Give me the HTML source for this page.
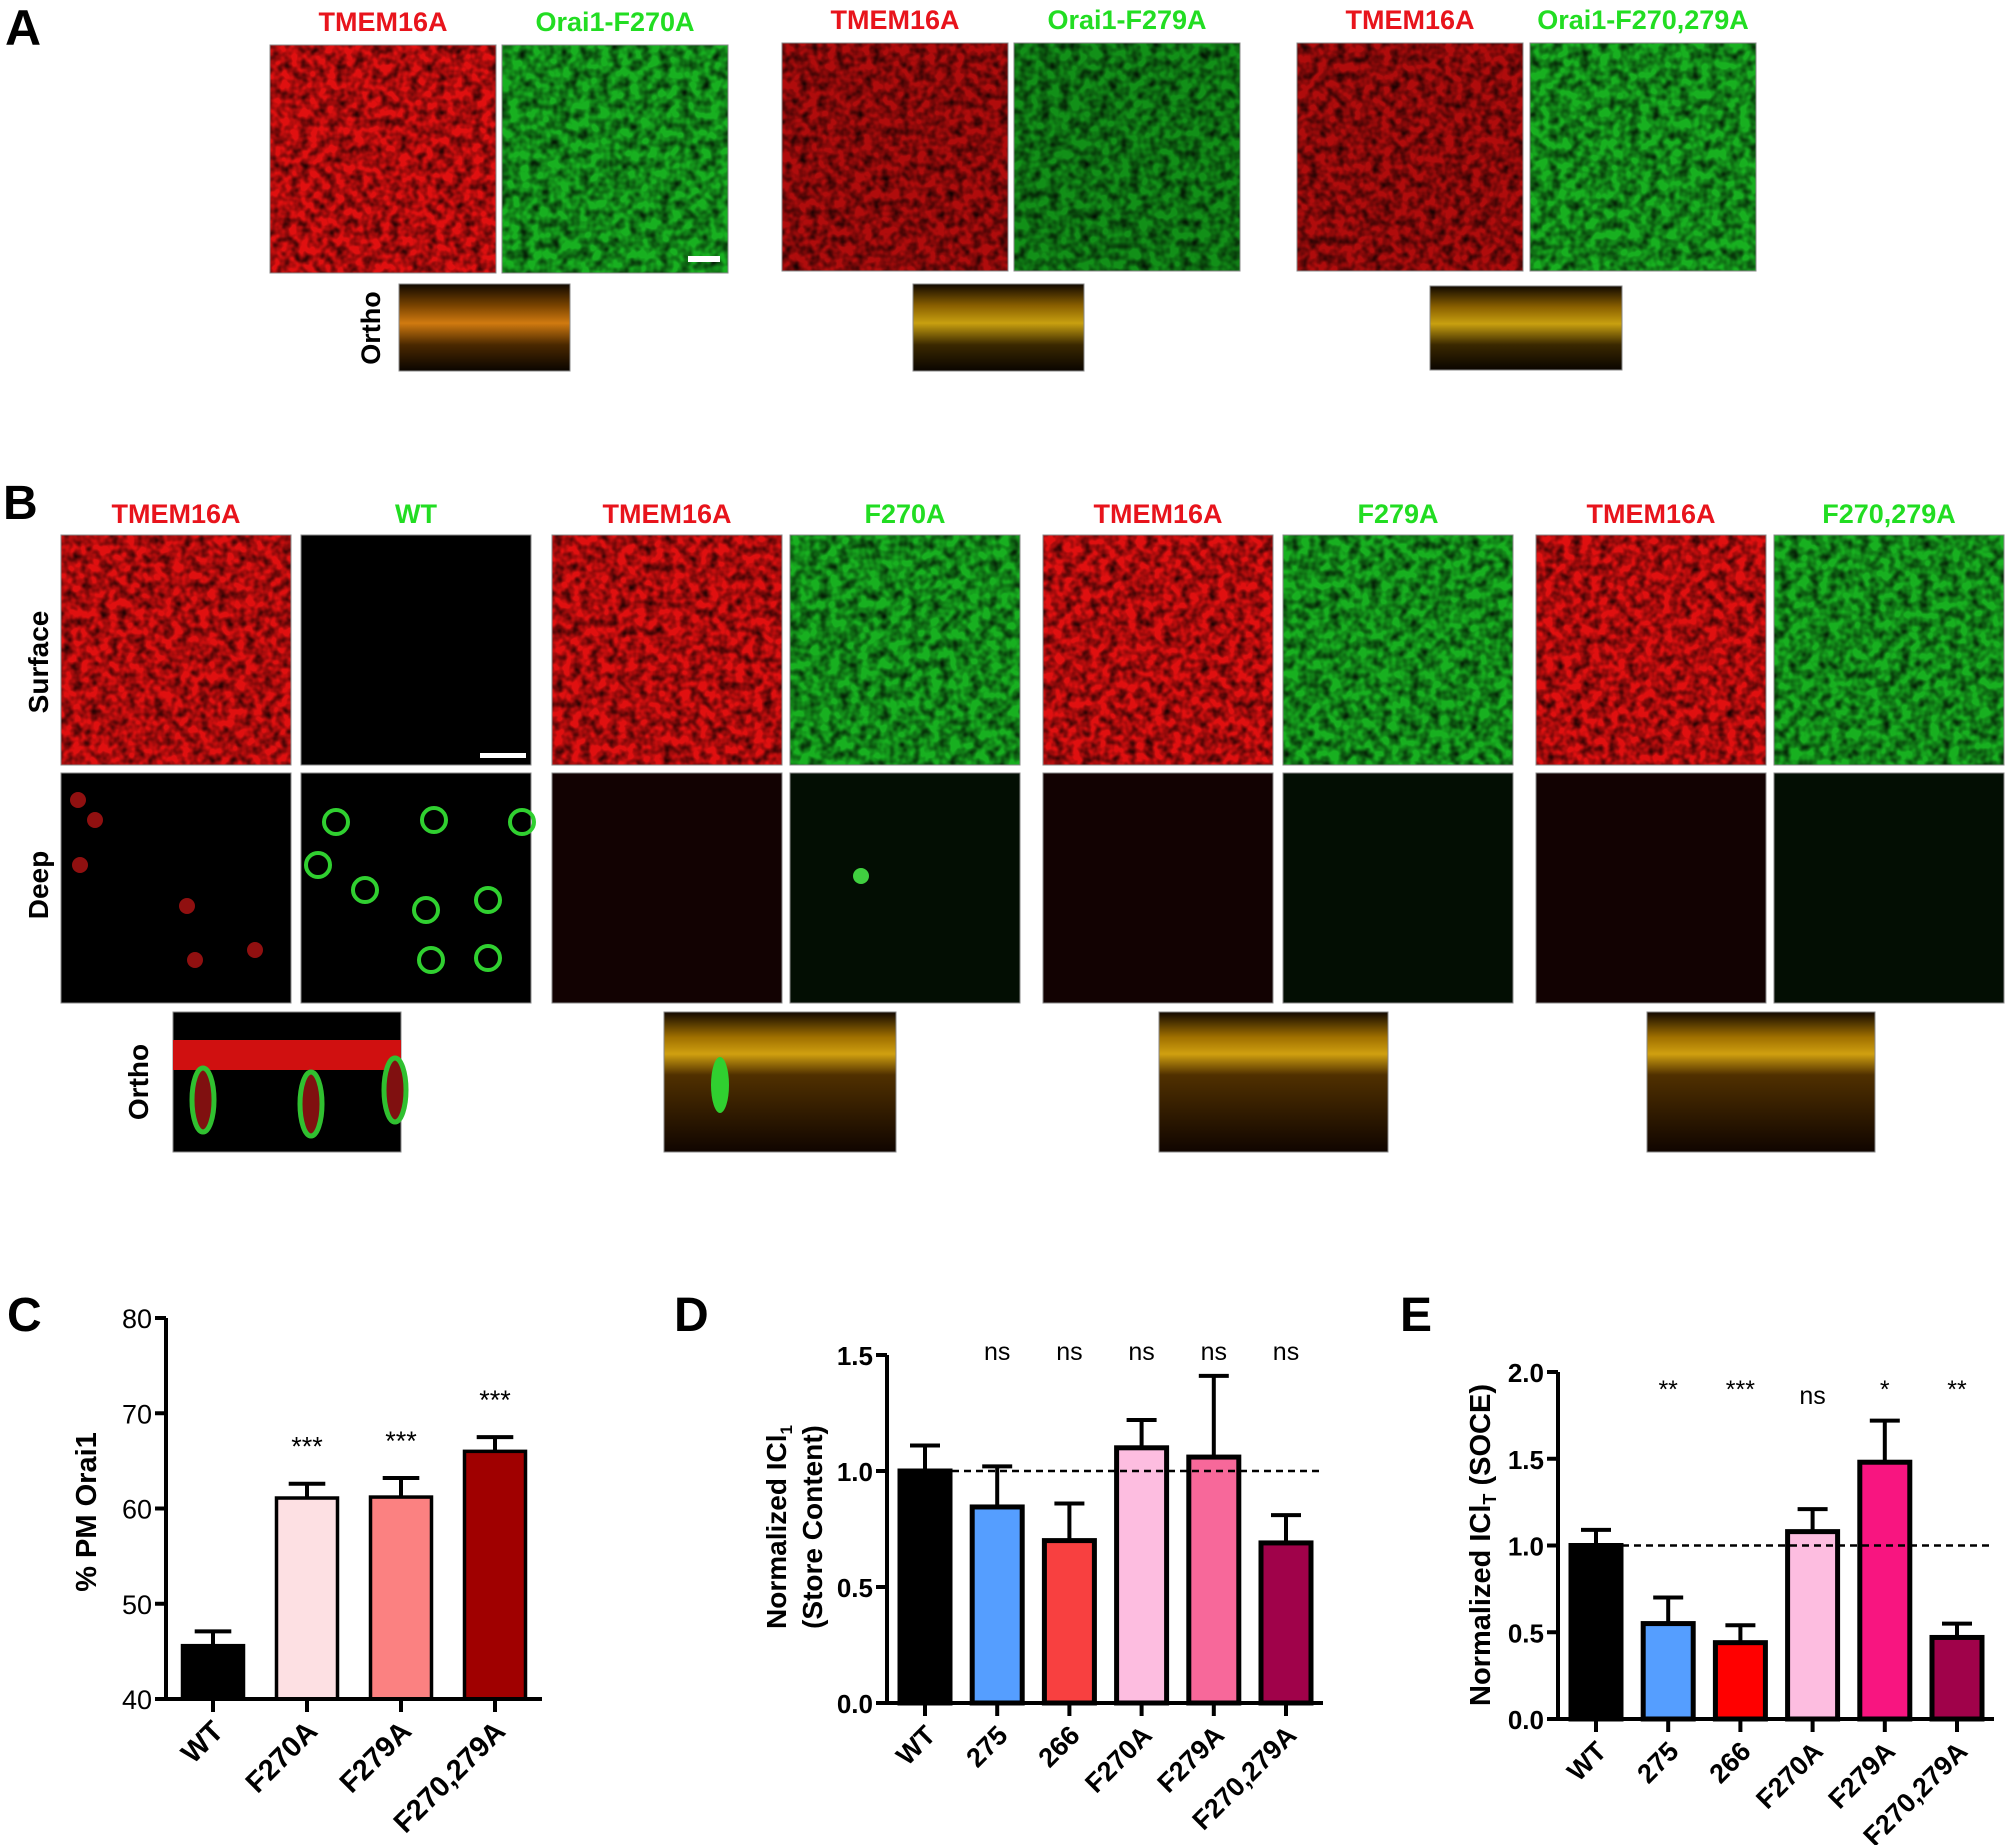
<!DOCTYPE html>
<html><head><meta charset="utf-8"><style>
html,body{margin:0;padding:0;background:#fff;}
svg{display:block;font-family:"Liberation Sans",Arial,sans-serif;}
</style></head><body>
<svg id="fig" width="2007" height="1845" viewBox="0 0 2007 1845" xmlns="http://www.w3.org/2000/svg">
<defs>
<filter id="nR" x="0" y="0" width="100%" height="100%"><feTurbulence type="fractalNoise" baseFrequency="0.11" numOctaves="2" seed="3"/><feColorMatrix type="matrix" values="0 0 0 0 0  0 0 0 0 0  0 0 0 0 0  0 0 0 -1.5 1.0"/></filter>
<filter id="nG" x="0" y="0" width="100%" height="100%"><feTurbulence type="fractalNoise" baseFrequency="0.10" numOctaves="2" seed="7"/><feColorMatrix type="matrix" values="0 0 0 0 0  0 0 0 0 0  0 0 0 0 0  0 0 0 -1.5 1.0"/></filter>
<linearGradient id="orthoA" x1="0" y1="0" x2="0" y2="1"><stop offset="0" stop-color="#100800"/><stop offset="0.25" stop-color="#7a4400"/><stop offset="0.45" stop-color="#d07a10"/><stop offset="0.7" stop-color="#4a2800"/><stop offset="1" stop-color="#0a0500"/></linearGradient>
<linearGradient id="orthoY" x1="0" y1="0" x2="0" y2="1"><stop offset="0" stop-color="#100800"/><stop offset="0.25" stop-color="#8a6000"/><stop offset="0.45" stop-color="#c8a010"/><stop offset="0.7" stop-color="#3a2800"/><stop offset="1" stop-color="#0a0500"/></linearGradient>
<linearGradient id="orthoB" x1="0" y1="0" x2="0" y2="1"><stop offset="0" stop-color="#120800"/><stop offset="0.18" stop-color="#a07000"/><stop offset="0.3" stop-color="#d0a010"/><stop offset="0.45" stop-color="#503000"/><stop offset="1" stop-color="#100500"/></linearGradient>
</defs>
<g id="panelA">
<text x="5" y="45" font-size="50" font-weight="bold">A</text>
</g>
<g id="panelB">
<text x="3" y="519" font-size="48" font-weight="bold">B</text>
</g>
<g id="charts">
<text x="7" y="1331" font-size="48" font-weight="bold">C</text>
<text x="674" y="1331" font-size="48" font-weight="bold">D</text>
<text x="1400" y="1331" font-size="48" font-weight="bold">E</text>
</g>
</svg>
<script>
// ---- Chart C data ----
const cCategories = ["WT","F270A","F279A","F270,279A"];
const cValues = [45.6, 61.1, 61.2, 66.0];
const cErrors = [1.5, 1.5, 2.0, 1.5];
const cSig = ["", "***", "***", "***"];
const cTicks = [40, 50, 60, 70, 80];
const cColors = ["#000000","#fde0e3","#fb8181","#a00000"];
// ---- Chart D data ----
const dCategories = ["WT","275","266","F270A","F279A","F270,279A"];
const dValues = [1.0, 0.845, 0.70, 1.10, 1.06, 0.69];
const dErrors = [0.11, 0.175, 0.16, 0.12, 0.35, 0.12];
const dSig = ["", "ns","ns","ns","ns","ns"];
const dTicks = [0.0, 0.5, 1.0, 1.5];
const dTickLabels = ["0.0","0.5","1.0","1.5"];
const dColors = ["#000000","#559eff","#f84040","#fdbde0","#f7689a","#a0024a"];
// ---- Chart E data ----
const eCategories = ["WT","275","266","F270A","F279A","F270,279A"];
const eValues = [1.0, 0.55, 0.44, 1.08, 1.48, 0.47];
const eErrors = [0.09, 0.15, 0.10, 0.13, 0.24, 0.08];
const eSig = ["", "**","***","ns","*","**"];
const eTicks = [0.0, 0.5, 1.0, 1.5, 2.0];
const eTickLabels = ["0.0","0.5","1.0","1.5","2.0"];
const eColors = ["#000000","#559eff","#ff0000","#fdbde0","#f81580","#a0024a"];

const NS="http://www.w3.org/2000/svg";
const svg=document.getElementById('fig');
function mk(tag, attrs, parent, txt){const e=document.createElementNS(NS,tag);for(const k in attrs)e.setAttribute(k,attrs[k]);if(txt!==undefined)e.textContent=txt;(parent||svg).appendChild(e);return e;}

// ---------- micrograph panels ----------
function micro(x,y,w,h,kind,name,parent){
  const g=mk('g',{},parent);
  
  
  const base={red:'#e01010',green:'#18b020',dimred:'#b00c0c',dimgreen:'#129018'}[kind];
  if(base){
    mk('rect',{x:x,y:y,width:w,height:h,fill:base},g);
    mk('rect',{x:x,y:y,width:w,height:h,filter:(kind.indexOf('red')>=0?'url(#nR)':'url(#nG)')},g);
  } else {
    mk('rect',{x:x,y:y,width:w,height:h,fill:kind==='deepred'?'#120202':(kind==='deepgreen'?'#030e03':'#000')},g);
  }
  mk('rect',{x:x,y:y,width:w,height:h,fill:'none',stroke:'#888','stroke-width':1},g);
  return g;
}
function label(x,y,txt,color,name,size){
  const t=mk('text',{x:x,y:y,'font-size':size||27,'font-weight':'bold',fill:color,'text-anchor':'middle'},svg,txt);
  
  
}
function vlabel(x,y,txt,name,size){
  const t=mk('text',{x:x,y:y,'font-size':size||27,'font-weight':'bold','text-anchor':'middle',transform:`rotate(-90 ${x} ${y})`},svg,txt);
  
  
}
function ortho(x,y,w,h,grad,name){
  const r=mk('rect',{x:x,y:y,width:w,height:h,fill:`url(#${grad})`,stroke:'#888','stroke-width':1});
  
  
  return r;
}
// Panel A
const aGroups=[[270,502,45,'Orai1-F270A'],[782,1014,43,'Orai1-F279A'],[1297,1530,43,'Orai1-F270,279A']];
aGroups.forEach((gA,i)=>{
  micro(gA[0],gA[2],226,228,i===0?'red':'dimred','a-tmem16a-image-'+(i+1));
  micro(gA[1],gA[2],226,228,i===1?'dimgreen':'green','a-orai1-image-'+(i+1));
  label(gA[0]+113,gA[2]-14,'TMEM16A','#e8141c','a-tmem16a-label-'+(i+1));
  label(gA[1]+113,gA[2]-14,gA[3],'#22dd22','a-orai1-label-'+(i+1));
});
mk('rect',{x:688,y:256,width:32,height:6,fill:'#fff'});
ortho(399,284,171,87,'orthoA','a-ortho-1');
ortho(913,284,171,87,'orthoY','a-ortho-2');
ortho(1430,286,192,84,'orthoY','a-ortho-3');
vlabel(380,328,'Ortho','a-ortho-label',27);

// Panel B
const bCols=[61,301,552,790,1043,1283,1536,1774];
const bHead=[['TMEM16A','#e8141c'],['WT','#22dd22'],['TMEM16A','#e8141c'],['F270A','#22dd22'],['TMEM16A','#e8141c'],['F279A','#22dd22'],['TMEM16A','#e8141c'],['F270,279A','#22dd22']];
bCols.forEach((cx,i)=>{
  label(cx+115,523,bHead[i][0],bHead[i][1],'b-header-'+(i+1));
  let sk = i%2===0 ? 'red' : (i===1 ? 'black' : 'green');
  micro(cx,535,230,230,sk,'b-surface-image-'+(i+1));
  let dk = i%2===0 ? 'deepred' : 'deepgreen';
  if(i===0||i===1) dk='black';
  micro(cx,773,230,230,dk,'b-deep-image-'+(i+1));
});
mk('rect',{x:480,y:753,width:46,height:5,fill:'#fff'});
[[336,822],[434,820],[522,822],[318,865],[365,890],[426,910],[488,900],[431,960],[488,958]].forEach(p=>{mk('circle',{cx:p[0],cy:p[1],r:12,fill:'none',stroke:'#30d030','stroke-width':4});});
[[78,800],[95,820],[80,865],[187,906],[255,950],[195,960]].forEach(p=>{mk('circle',{cx:p[0],cy:p[1],r:8,fill:'#901010'});});
mk('circle',{cx:861,cy:876,r:8,fill:'#40d040'});
vlabel(48,662,'Surface','b-surface-label',28);
vlabel(48,885,'Deep','b-deep-label',28);
vlabel(148,1082,'Ortho','b-ortho-label',28);
const wo=ortho(173,1012,228,140,'orthoA','b-ortho-wt');
wo.setAttribute('fill','#000');
mk('rect',{x:173,y:1040,width:228,height:30,fill:'#d01010'});
[[203,1100],[311,1104],[395,1090]].forEach(p=>{mk('ellipse',{cx:p[0],cy:p[1],rx:11,ry:32,fill:'#801010',stroke:'#30c030','stroke-width':5});});
ortho(664,1012,232,140,'orthoB','b-ortho-f270a');
mk('ellipse',{cx:720,cy:1085,rx:9,ry:28,fill:'#30d030'});
ortho(1159,1012,229,140,'orthoB','b-ortho-f279a');
ortho(1647,1012,228,140,'orthoB','b-ortho-f270-279a');

// ---------- bar charts ----------
function drawChart(o){
  const g=mk('g',{});
  
  
  const yS=v=>o.y0+(v-o.vmin)/(o.vmax-o.vmin)*(o.y1-o.y0);
  const xS=i=>o.xc0+i*o.step;
  o.values.forEach((v,i)=>{
    const cx=xS(i), top=yS(v), et=yS(v+o.errors[i]);
    const eb=mk('line',{x1:cx,y1:top,x2:cx,y2:et,stroke:'#000','stroke-width':o.sw},g);
    
    
    mk('line',{x1:cx-o.bw*0.3,y1:et,x2:cx+o.bw*0.3,y2:et,stroke:'#000','stroke-width':o.sw},g);
    const r=mk('rect',{x:cx-o.bw/2,y:top,width:o.bw,height:o.y0-top,fill:o.colors[i],stroke:'#000','stroke-width':o.bsw},g);
    
    
    if(o.sig[i]){
      const sy = o.relSig ? et-28 : (o.sig[i]==='ns'?o.nsY:o.starY);
      const s=mk('text',{x:cx,y:sy,'font-size':o.sigSize,'text-anchor':'middle'},g,o.sig[i]);
      
      
    }
    mk('line',{x1:cx,y1:o.y0,x2:cx,y2:o.y0+13,stroke:'#000','stroke-width':o.sw},g);
    const lx=cx+12, ly=o.y0+34;
    const t=mk('text',{x:lx,y:ly,'font-size':o.xfs,'font-weight':'bold','text-anchor':'end',transform:`rotate(-45 ${lx} ${ly})`},g,o.cats[i]);
    
    
  });
  if(o.dash!==undefined){
    const dl=mk('line',{x1:o.dashX0,y1:yS(o.dash),x2:o.dashX1,y2:yS(o.dash),stroke:'#000','stroke-width':2.5,'stroke-dasharray':'7,5'},g);
    
    
  }
  const ya=mk('line',{x1:o.ax,y1:o.y0+o.sw/2,x2:o.ax,y2:o.y1,stroke:'#000','stroke-width':o.sw},g);
  
  
  const xa=mk('line',{x1:o.ax-10,y1:o.y0,x2:o.axEnd,y2:o.y0,stroke:'#000','stroke-width':o.sw},g);
  
  
  o.ticks.forEach((v,j)=>{
    const y=yS(v);
    mk('line',{x1:o.ax-11,y1:y,x2:o.ax,y2:y,stroke:'#000','stroke-width':o.sw},g);
    const t=mk('text',{x:o.ax-14,y:y+10,'font-size':o.yfs,'font-weight':o.ybold?'bold':'normal','text-anchor':'end'},g,o.tickLabels[j]);
    
    
  });
  o.ylabel.forEach((l,k)=>{
    const x=l[1], y=o.ylabY;
    const t=mk('text',{x:x,y:y,'font-size':o.ylfs,'font-weight':'bold','text-anchor':'middle',transform:`rotate(-90 ${x} ${y})`},g);
    
    
    t.innerHTML=l[0];
  });
}
drawChart({name:'chart-c',cats:cCategories,values:cValues,errors:cErrors,sig:cSig,colors:cColors,ticks:cTicks,tickLabels:cTicks.map(String),
  vmin:40,vmax:80,y0:1699,y1:1318,xc0:213,step:94,bw:61,ax:166,axEnd:542,sw:4,bsw:3.5,relSig:true,sigSize:27,
  xfs:29,yfs:27,ybold:false,ylfs:29,ylabel:[['% PM Orai1',96]],ylabY:1512});
drawChart({name:'chart-d',cats:dCategories,values:dValues,errors:dErrors,sig:dSig,colors:dColors,ticks:dTicks,tickLabels:dTickLabels,
  vmin:0,vmax:1.5,y0:1703,y1:1355,xc0:925,step:72.2,bw:50,ax:887,axEnd:1323,sw:4,bsw:5,starY:1360,nsY:1360,sigSize:25,
  xfs:27,yfs:26,ybold:true,ylfs:28,ylabel:[['Normalized ICl<tspan font-size="17" dy="6">1</tspan>',786],['(Store Content)',822]],ylabY:1527,
  dash:1.0,dashX0:952,dashX1:1320});
drawChart({name:'chart-e',cats:eCategories,values:eValues,errors:eErrors,sig:eSig,colors:eColors,ticks:eTicks,tickLabels:eTickLabels,
  vmin:0,vmax:2.0,y0:1719,y1:1372,xc0:1596,step:72.2,bw:50,ax:1558,axEnd:1994,sw:4,bsw:5,starY:1398,nsY:1404,sigSize:25,
  xfs:27,yfs:26,ybold:true,ylfs:29,ylabel:[['Normalized ICl<tspan font-size="18" dy="6">T</tspan><tspan dy="-6"> (SOCE)</tspan>',1490]],ylabY:1545,
  dash:1.0,dashX0:1622,dashX1:1992});
</script>
</body></html>
